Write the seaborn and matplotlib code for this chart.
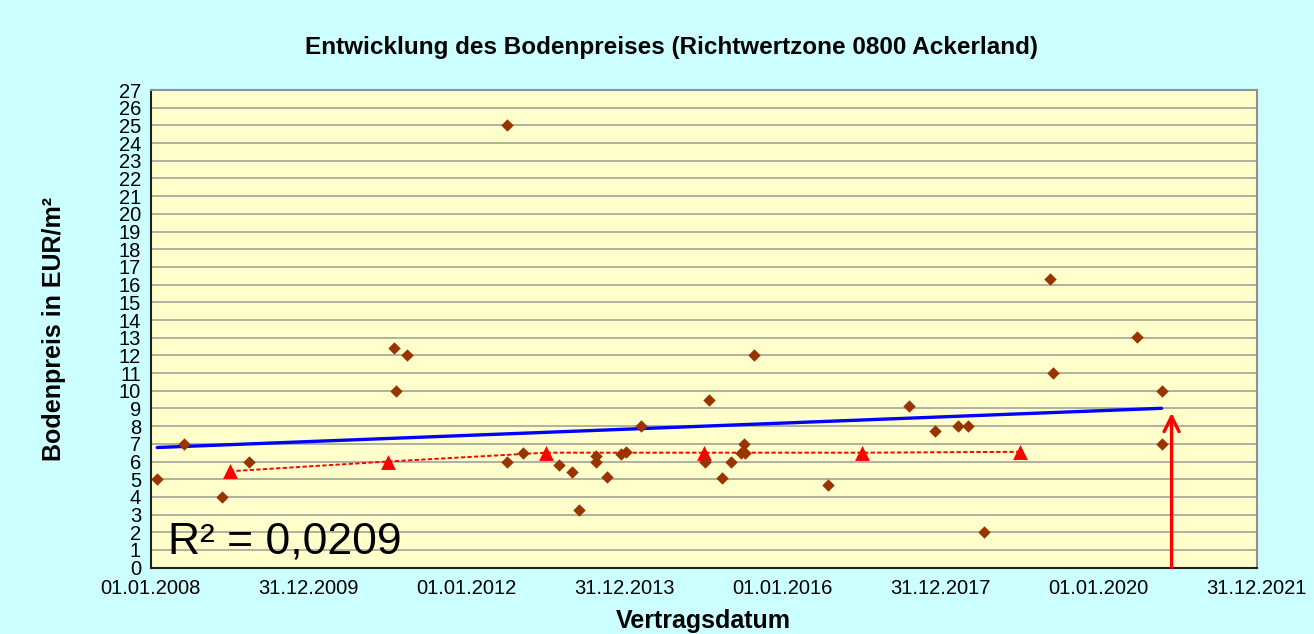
import matplotlib
matplotlib.use("Agg")
import matplotlib.pyplot as plt
import numpy as np
import pandas as pd
import seaborn as sns

# Kaufpreise: Tage seit 01.01.2008 und Bodenpreis in EUR/m²
tage = [30, 155, 330, 453, 1125, 1133, 1184, 1646, 1646, 1720,
        1889, 1949, 1982, 2059, 2059, 2108, 2173, 2198, 2265, 2561,
        2581, 2640, 2683, 2729, 2743, 2748, 2789, 3133, 3506, 3628,
        3734, 3777, 3853, 4158, 4170, 4560, 4674, 4674]
preise = [5.0, 7.0, 4.0, 6.0, 12.4, 10.0, 12.0, 6.0, 25.0, 6.5,
          5.8, 5.4, 3.25, 6.3, 6.0, 5.1, 6.4, 6.55, 8.0, 6.0,
          9.5, 5.05, 6.0, 6.5, 7.0, 6.5, 12.0, 4.7, 9.15, 7.75,
          8.0, 8.0, 2.0, 16.3, 11.0, 13.05, 10.0, 7.0]

# Richtwerte (rote Dreiecke) jeweils zum 01.01.
richtwert_tage = [366, 1096, 1827, 2557, 3288, 4018]
richtwerte = [5.45, 6.0, 6.5, 6.5, 6.5, 6.55]

# Stichtag-Pfeil
pfeil_tag = 4720
pfeil_hoehe = 8.75

tick_labels = ["01.01.2008", "31.12.2009", "01.01.2012", "31.12.2013",
               "01.01.2016", "31.12.2017", "01.01.2020", "31.12.2021"]

df = pd.DataFrame({"tag": tage, "preis": preise})
df_rw = pd.DataFrame({"tag": richtwert_tage, "wert": richtwerte})

sns.set_style("white")
plt.rcParams["font.family"] = ["Liberation Sans", "DejaVu Sans"]
plt.rcParams["text.color"] = "black"
plt.rcParams["axes.labelcolor"] = "black"

fig = plt.figure(figsize=(13.14, 6.34), dpi=100, facecolor="#CCFFFF")
ax = fig.add_axes([0.1147, 0.1046, 0.8417, 0.7534])
ax.set_facecolor("#FFFFCC")

for y in range(1, 27):
    ax.axhline(y, color="#AAAA9C", lw=1.3, zorder=0)

sns.regplot(data=df, x="tag", y="preis", scatter=False, ci=None, ax=ax,
            line_kws={"color": "#0000FF", "lw": 2.4, "zorder": 3})

sns.lineplot(data=df_rw, x="tag", y="wert", ax=ax, color="#FF0000", lw=1.4,
             dashes=False, linestyle=(0, (2.2, 1.2)), zorder=3)
sns.scatterplot(data=df_rw, x="tag", y="wert", ax=ax, marker="^", s=115,
                color="#FF0000", edgecolor="#FF0000", linewidth=0, zorder=4)

sns.scatterplot(data=df, x="tag", y="preis", ax=ax, marker="D", s=40,
                color="#993300", edgecolor="#993300", linewidth=0, zorder=5)

ax.annotate("", xy=(pfeil_tag, pfeil_hoehe), xytext=(pfeil_tag, 0),
            arrowprops=dict(arrowstyle="->", color="#FF0000", lw=2.4,
                            mutation_scale=27, shrinkA=0, shrinkB=0),
            zorder=6)

ax.set_xlim(0, 730.5 * 7)
ax.set_ylim(0, 27)
ax.set_xticks(np.arange(8) * 730.5)
ax.set_xticklabels(tick_labels, fontsize=14.5)
ax.set_yticks(range(0, 28))
ax.set_yticklabels([str(i) for i in range(0, 28)], fontsize=14.5)
ax.tick_params(axis="both", direction="out", length=5, color="#808080",
               width=1, pad=3, labelcolor="black")
ax.tick_params(axis="y", pad=2)

for side in ["top", "right"]:
    ax.spines[side].set_color("#909090")
    ax.spines[side].set_linewidth(1.5)
for side in ["left", "bottom"]:
    ax.spines[side].set_color("#202020")
    ax.spines[side].set_linewidth(1.5)

ax.set_xlabel("Vertragsdatum", fontsize=18, fontweight="bold", labelpad=8)
ax.set_ylabel("Bodenpreis in EUR/m²", fontsize=18, fontweight="bold",
              labelpad=38)

fig.text(0.511, 0.925, "Entwicklung des Bodenpreises (Richtwertzone 0800 Ackerland)",
         ha="center", va="center", fontsize=17.5, fontweight="bold")

ax.text(0.016, 0.01, "R² = 0,0209", transform=ax.transAxes, fontsize=32,
        ha="left", va="bottom")

fig.savefig("out.png", dpi=100, facecolor=fig.get_facecolor())
